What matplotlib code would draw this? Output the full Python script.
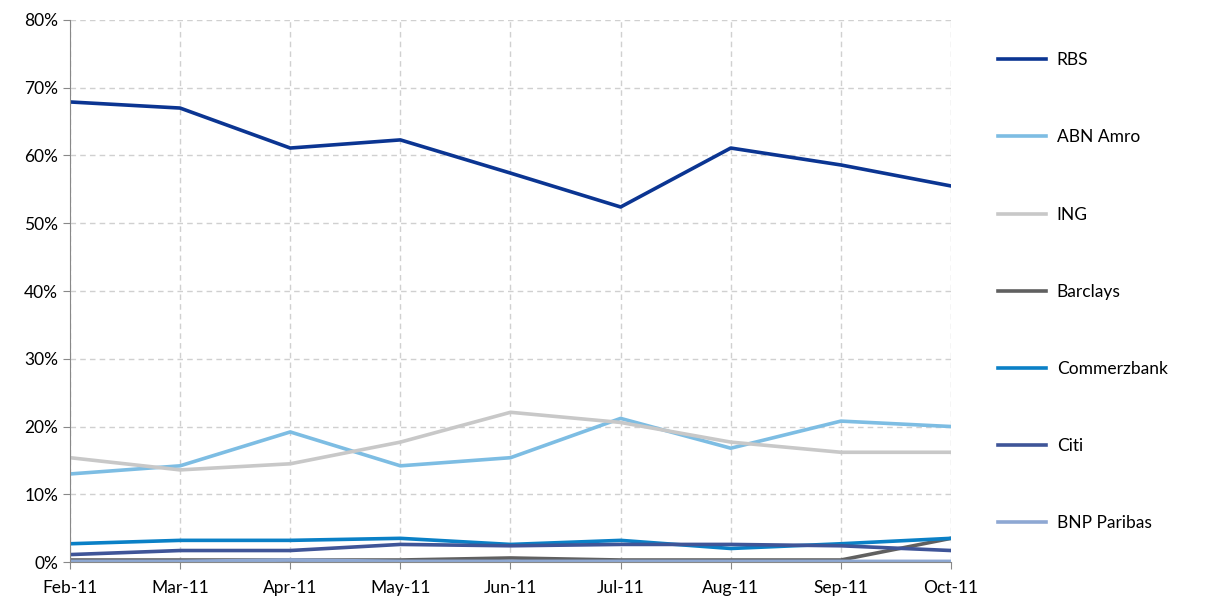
import matplotlib.pyplot as plt
from matplotlib.ticker import FuncFormatter

plt.rcParams['font.family'] = ['Lato', 'DejaVu Sans']

months = ["Feb-11", "Mar-11", "Apr-11", "May-11", "Jun-11", "Jul-11", "Aug-11", "Sep-11", "Oct-11"]

rbs = [67.9, 67.0, 61.1, 62.3, 57.4, 52.4, 61.1, 58.6, 55.5]
abn_amro = [13.0, 14.2, 19.2, 14.2, 15.4, 21.2, 16.8, 20.8, 20.0]
ing = [15.4, 13.6, 14.5, 17.7, 22.1, 20.6, 17.7, 16.2, 16.2]
barclays = [0.3, 0.3, 0.3, 0.3, 0.6, 0.3, 0.3, 0.3, 3.5]
commerzbank = [2.7, 3.2, 3.2, 3.5, 2.6, 3.2, 2.0, 2.7, 3.5]
citi = [1.1, 1.7, 1.7, 2.6, 2.4, 2.6, 2.6, 2.4, 1.7]
bnp = [0.1, 0.1, 0.3, 0.1, 0.1, 0.1, 0.1, 0.1, 0.1]

series = [
    ("RBS", rbs, "#0b3592"),
    ("ABN Amro", abn_amro, "#7dbde3"),
    ("ING", ing, "#c8c8c8"),
    ("Barclays", barclays, "#606060"),
    ("Commerzbank", commerzbank, "#0a80c6"),
    ("Citi", citi, "#3f5598"),
    ("BNP Paribas", bnp, "#8ea8d3"),
]

fig = plt.figure(figsize=(12.06, 6.05), dpi=100)
ax = fig.add_axes([0.058, 0.071, 0.7306, 0.896])

x = list(range(len(months)))
for name, vals, col in series:
    ax.plot(x, vals, color=col, lw=2.6, label=name, solid_joinstyle='round')

ax.set_xlim(0, len(months) - 1)
ax.set_ylim(0, 80)
ax.set_xticks(x)
ax.set_xticklabels(months)
ax.set_yticks(range(0, 81, 10))
ax.yaxis.set_major_formatter(FuncFormatter(lambda v, p: f"{int(v)}%"))

ax.grid(True, color="#d0d0d0", linestyle=(0, (4, 3)), lw=1)
ax.set_axisbelow(True)
for s in ["top", "right"]:
    ax.spines[s].set_visible(False)
for s in ["left", "bottom"]:
    ax.spines[s].set_color("#888888")
ax.tick_params(axis="both", colors="#888888", labelcolor="black", labelsize=12.5,
               direction="out", length=5)
ax.tick_params(axis="x", pad=8)

ax.legend(loc="upper left", bbox_to_anchor=(1.045, 0.953), frameon=False,
          fontsize=12.5, labelspacing=3.52, handlelength=2.8, handletextpad=0.6,
          borderaxespad=0)

fig.savefig("out.png", dpi=100)
